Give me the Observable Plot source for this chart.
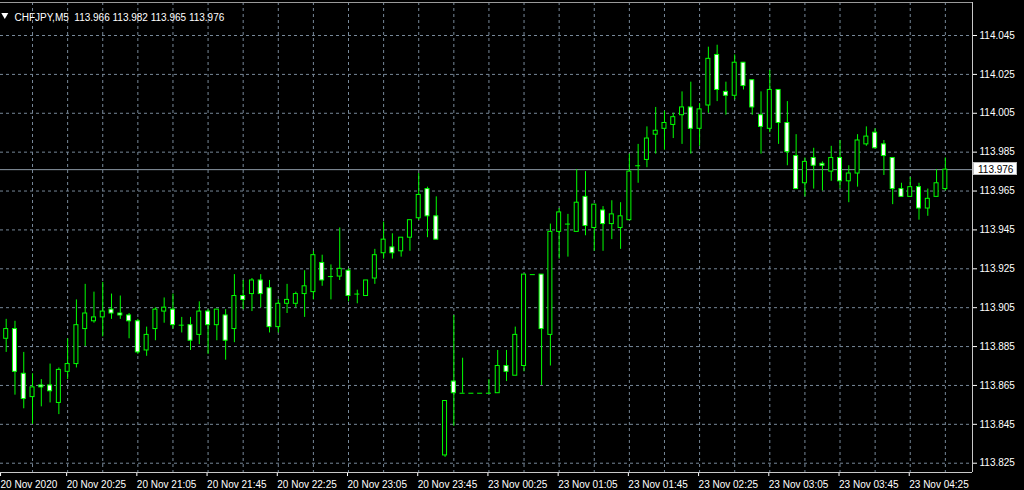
<!DOCTYPE html>
<html><head><meta charset="utf-8">
<script src="https://cdn.jsdelivr.net/npm/d3@7"></script>
<script src="https://cdn.jsdelivr.net/npm/@observablehq/plot@0.6"></script>
<style>
html,body{margin:0;padding:0;background:#000;overflow:hidden}
#chart svg{display:block;background:#000}
</style></head><body><div id="chart"></div>
<script>
const symbol = "CHFJPY,M5";
const times = [
"2020-11-20 19:50","2020-11-20 19:55",
"2020-11-20 20:00","2020-11-20 20:05","2020-11-20 20:10","2020-11-20 20:15","2020-11-20 20:20","2020-11-20 20:25","2020-11-20 20:30","2020-11-20 20:35","2020-11-20 20:40","2020-11-20 20:45","2020-11-20 20:50","2020-11-20 20:55",
"2020-11-20 21:00","2020-11-20 21:05","2020-11-20 21:10","2020-11-20 21:15","2020-11-20 21:20","2020-11-20 21:25","2020-11-20 21:30","2020-11-20 21:35","2020-11-20 21:40","2020-11-20 21:45","2020-11-20 21:50","2020-11-20 21:55",
"2020-11-20 22:00","2020-11-20 22:05","2020-11-20 22:10","2020-11-20 22:15","2020-11-20 22:20","2020-11-20 22:25","2020-11-20 22:30","2020-11-20 22:35","2020-11-20 22:40","2020-11-20 22:45","2020-11-20 22:50","2020-11-20 22:55",
"2020-11-20 23:00","2020-11-20 23:05","2020-11-20 23:10","2020-11-20 23:15","2020-11-20 23:20","2020-11-20 23:25","2020-11-20 23:30","2020-11-20 23:35","2020-11-20 23:40","2020-11-20 23:45","2020-11-20 23:50","2020-11-20 23:55",
"2020-11-23 00:00","2020-11-23 00:05","2020-11-23 00:10","2020-11-23 00:15","2020-11-23 00:20","2020-11-23 00:25","2020-11-23 00:30","2020-11-23 00:35","2020-11-23 00:40","2020-11-23 00:45","2020-11-23 00:50","2020-11-23 00:55",
"2020-11-23 01:00","2020-11-23 01:05","2020-11-23 01:10","2020-11-23 01:15","2020-11-23 01:20","2020-11-23 01:25","2020-11-23 01:30","2020-11-23 01:35","2020-11-23 01:40","2020-11-23 01:45","2020-11-23 01:50","2020-11-23 01:55",
"2020-11-23 02:00","2020-11-23 02:05","2020-11-23 02:10","2020-11-23 02:15","2020-11-23 02:20","2020-11-23 02:25","2020-11-23 02:30","2020-11-23 02:35","2020-11-23 02:40","2020-11-23 02:45","2020-11-23 02:50","2020-11-23 02:55",
"2020-11-23 03:00","2020-11-23 03:05","2020-11-23 03:10","2020-11-23 03:15","2020-11-23 03:20","2020-11-23 03:25","2020-11-23 03:30","2020-11-23 03:35","2020-11-23 03:40","2020-11-23 03:45","2020-11-23 03:50","2020-11-23 03:55",
"2020-11-23 04:00","2020-11-23 04:05","2020-11-23 04:10","2020-11-23 04:15","2020-11-23 04:20","2020-11-23 04:25","2020-11-23 04:30","2020-11-23 04:35","2020-11-23 04:40","2020-11-23 04:45"
];
const opens = [
113.889,113.894,113.871,113.859,113.865,113.865,113.856,113.872,113.876,113.894,
113.898,113.900,113.904,113.902,113.901,113.898,113.883,113.894,113.903,113.904,
113.896,113.896,113.891,113.903,113.896,113.901,113.894,113.911,113.912,113.919,
113.915,113.895,113.907,113.907,113.912,113.913,113.928,113.921,113.921,113.924,
113.912,113.911,113.920,113.933,113.936,113.934,113.941,113.951,113.966,113.952,
113.829,113.867,113.861,113.861,113.861,113.861,113.861,113.875,113.870,113.875,
113.922,113.922,113.891,113.944,113.948,113.944,113.962,113.946,113.955,113.948,
113.946,113.950,113.978,113.981,113.994,113.997,113.999,114.004,114.008,113.997,
114.009,114.035,114.016,114.014,114.031,114.022,114.004,113.997,114.017,114.000,
113.983,113.969,113.982,113.979,113.975,113.982,113.970,113.974,113.989,113.995,
113.989,113.982,113.966,113.962,113.967,113.956,113.962,113.966
];
const highs = [
113.899,113.898,113.882,113.871,113.868,113.876,113.874,113.889,113.909,113.917,
113.913,113.918,113.912,113.911,113.902,113.899,113.895,113.905,113.910,113.912,
113.900,113.900,113.908,113.904,113.904,113.904,113.922,113.919,113.920,113.922,
113.919,113.909,113.917,113.913,113.924,113.934,113.932,113.927,113.946,113.925,
113.914,113.919,113.935,113.949,113.943,113.941,113.950,113.974,113.967,113.962,
113.857,113.901,113.879,113.861,113.861,113.868,113.883,113.883,113.895,113.922,
113.922,113.922,113.948,113.956,113.953,113.976,113.975,113.958,113.957,113.960,
113.959,113.984,113.989,113.998,114.008,114.006,114.005,114.016,114.021,114.010,
114.039,114.040,114.021,114.035,114.031,114.022,114.016,114.027,114.017,114.011,
113.994,113.982,113.987,113.980,113.988,113.991,113.978,113.994,113.998,113.997,
113.991,113.982,113.969,113.972,113.969,113.966,113.976,113.982
];
const lows = [
113.882,113.860,113.853,113.845,113.854,113.856,113.850,113.868,113.874,113.885,
113.897,113.890,113.899,113.899,113.889,113.881,113.880,113.888,113.897,113.894,
113.892,113.883,113.886,113.881,113.888,113.878,113.887,113.904,113.903,113.905,
113.892,113.892,113.902,113.905,113.900,113.909,113.916,113.909,113.919,113.908,
113.907,113.911,113.917,113.930,113.930,113.931,113.934,113.950,113.941,113.940,
113.828,113.844,113.861,113.861,113.861,113.861,113.861,113.867,113.870,113.872,
113.922,113.865,113.875,113.930,113.931,113.944,113.942,113.934,113.934,113.940,
113.935,113.950,113.969,113.977,113.984,113.986,113.992,113.989,113.984,113.988,
114.005,114.011,114.004,114.012,114.017,114.004,113.984,113.995,113.989,113.978,
113.966,113.962,113.966,113.965,113.970,113.966,113.959,113.967,113.988,113.987,
113.973,113.958,113.962,113.962,113.950,113.952,113.962,113.965
];
const closes = [
113.894,113.872,113.858,113.864,113.864,113.862,113.873,113.876,113.896,113.902,
113.900,113.903,113.902,113.901,113.898,113.882,113.891,113.904,113.905,113.896,
113.896,113.888,113.903,113.896,113.904,113.888,113.911,113.909,113.919,113.912,
113.895,113.907,113.909,113.912,113.916,113.932,113.919,113.921,113.925,113.911,
113.912,113.919,113.932,113.940,113.933,113.941,113.950,113.963,113.952,113.940,
113.857,113.861,113.861,113.861,113.861,113.861,113.875,113.872,113.891,113.922,
113.922,113.894,113.944,113.954,113.948,113.959,113.947,113.958,113.948,113.953,
113.952,113.975,113.978,113.992,113.996,114.000,114.003,114.008,113.997,114.007,
114.033,114.017,114.014,114.031,114.019,114.008,113.998,114.017,114.000,113.985,
113.966,113.980,113.978,113.978,113.982,113.970,113.974,113.991,113.993,113.987,
113.983,113.966,113.962,113.967,113.956,113.961,113.969,113.976
];
const yTicks = [113.825,113.845,113.865,113.885,113.905,113.925,113.945,113.965,113.985,114.005,114.025,114.045];
const xTickTimes = ["2020-11-20 19:45","2020-11-20 20:25","2020-11-20 21:05","2020-11-20 21:45","2020-11-20 22:25","2020-11-20 23:05","2020-11-20 23:45",
"2020-11-23 00:25","2020-11-23 01:05","2020-11-23 01:45","2020-11-23 02:25","2020-11-23 03:05","2020-11-23 03:45","2020-11-23 04:25"];
const xTickLabels = ["20 Nov 2020","20 Nov 20:25","20 Nov 21:05","20 Nov 21:45","20 Nov 22:25","20 Nov 23:05","20 Nov 23:45",
"23 Nov 00:25","23 Nov 01:05","23 Nov 01:45","23 Nov 02:25","23 Nov 03:05","23 Nov 03:45","23 Nov 04:25"];

const xDomain = [-0.6494, 110.094];
const yDomain = [113.82022, 114.06198];

const bars = times.map((t, i) => ({i, t, o: opens[i], h: highs[i], l: lows[i], c: closes[i]}));
const bull = bars.filter(d => d.c > d.o);
const bear = bars.filter(d => d.c < d.o);
const flat = bars.filter(d => d.c === d.o);
const last = bars[bars.length - 1];
// the first (date-only) label sits at the left edge of the chart
const xTickIdx = xTickTimes.map(t => { const k = times.indexOf(t); return k < 0 ? xDomain[0] + 0.12 : k; });
const labelMap = new Map(xTickIdx.map((k, j) => [k, xTickLabels[j]]));
const gridIdx = d3.range(3, times.length, 4);

const half = 0.228;
const green = "#00ff00";
const gridColor = "#778899";
const fmt = d3.format(".3f");
const font = "'Liberation Sans', Arial, sans-serif";

const plot = Plot.plot({
  width: 1024, height: 490,
  marginLeft: 0, marginRight: 52, marginTop: 2, marginBottom: 18,
  style: {background: "#000", color: "#fff", fontFamily: font, fontSize: "10px"},
  x: {type: "linear", domain: xDomain, label: null},
  y: {type: "linear", domain: yDomain, label: null},
  marks: [
    Plot.gridY(yTicks, {stroke: gridColor, strokeOpacity: 1, strokeDasharray: "3,3"}),
    Plot.gridX(gridIdx, {stroke: gridColor, strokeOpacity: 1, strokeDasharray: "3,3"}),
    Plot.ruleY([last.c], {stroke: "#8c99a6"}),
    Plot.ruleX(bars, {x: "i", y1: "l", y2: "h", stroke: green}),
    Plot.rect(bull, {x1: d => d.i - half, x2: d => d.i + half, y1: "o", y2: "c", fill: "#000", stroke: green}),
    Plot.rect(bear, {x1: d => d.i - half, x2: d => d.i + half, y1: "o", y2: "c", fill: "#fff", stroke: green}),
    Plot.ruleY(flat, {y: "o", x1: d => d.i - half - 0.06, x2: d => d.i + half + 0.06, stroke: green}),
    Plot.axisY(yTicks, {anchor: "right", label: null, tickSize: 4, tickPadding: 3, tickFormat: fmt, color: "#fff", fontSize: 10}),
    Plot.axisX(xTickIdx, {anchor: "bottom", label: null, tickSize: 4, tickPadding: 4, tickFormat: k => labelMap.get(k), textAnchor: "start", dx: -1, color: "#fff", fontSize: 10}),
    Plot.ruleY([yDomain[0]], {stroke: "#c8c8c8"}),
    Plot.ruleY([yDomain[1]], {stroke: "#9a9a9a"}),
    Plot.ruleX([xDomain[1]], {stroke: "#c8c8c8"}),
    Plot.text([`${symbol}  ${fmt(last.o)} ${fmt(last.h)} ${fmt(last.l)} ${fmt(last.c)}`], {frameAnchor: "top-left", dx: 14, dy: 11.5, textAnchor: "start", fill: "#fff", fontSize: 10}),
    Plot.dot([0], {frameAnchor: "top-left", dx: 4.3, dy: 12.5, symbol: "triangle", r: 2.6, fill: "#fff", stroke: "none", rotate: 180})
  ]
});
document.getElementById("chart").appendChild(plot);

// bid price label box on the right scale
const yPx = plot.scale("y").apply(last.c);
const svg = d3.select(plot);
const g = svg.append("g").attr("text-anchor", "start");
g.append("rect").attr("x", 973.5).attr("y", Math.round(yPx) - 6.5).attr("width", 43).attr("height", 12)
  .attr("fill", "#fff").attr("stroke", "#bbb");
g.append("text").attr("x", 978).attr("y", yPx).attr("dy", "0.34em").attr("text-anchor", "start")
  .attr("fill", "#000").attr("font-family", font).attr("font-size", 10).text(fmt(last.c));
</script>
</body></html>
